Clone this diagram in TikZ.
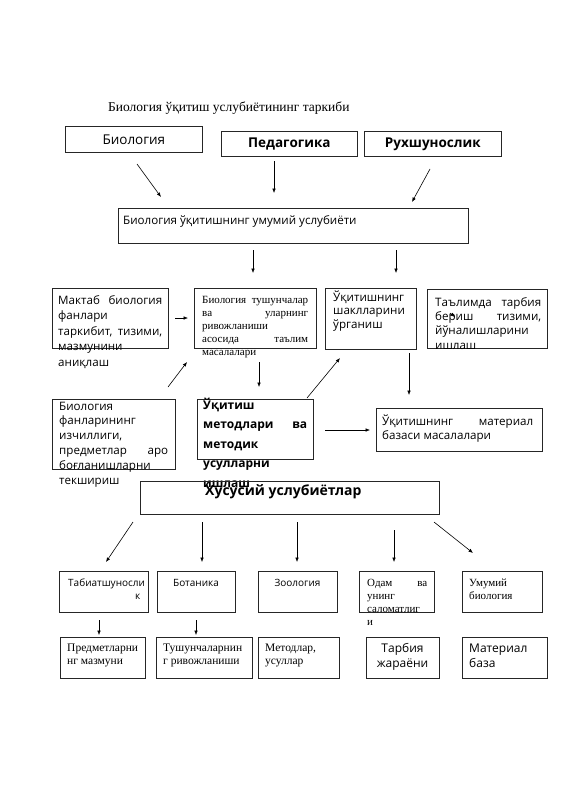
\documentclass[tikz,border=0pt]{standalone}
\usepackage{fontspec}
\setmainfont{Liberation Serif}
\setsansfont{Open Sans}
\usetikzlibrary{arrows.meta}
\newcommand\spread{\nobreak\hskip 2.5pt plus 1fill\relax}
\newcommand\ftitle{\rmfamily\fontsize{13.5}{16}\selectfont}
\newcommand\ftop{\sffamily\fontsize{13.5}{16}\selectfont}
\newcommand\fsans{\sffamily\fontsize{11.6}{15.5}\selectfont}
\newcommand\fbold{\sffamily\bfseries\fontsize{12}{19.5}\selectfont}
\newcommand\fser{\rmfamily\fontsize{11}{13.2}\selectfont}
\newcommand\fsmall{\sffamily\fontsize{10}{13}\selectfont}
\newcommand\fmid{\sffamily\fontsize{12}{15}\selectfont}
\begin{document}
\begin{tikzpicture}[x=1pt,y=-1pt,
  box/.style={draw=black!85, line width=0.7pt, anchor=north west, inner sep=0pt},
  txt/.style={anchor=base west, inner sep=0pt, align=justify},
  arr/.style={-{Latex[length=4.5pt,width=3.6pt]}, line width=0.6pt}]
\useasboundingbox (0,0) rectangle (565,800);

% title
\node[anchor=base west, inner sep=0pt, font=\ftitle] (title) at (108,111) {Биология ўқитиш услубиётининг таркиби};

% top row
\node[box, minimum width=137pt, minimum height=26pt, font=\ftop] (bio) at (65,126) {Биология};
\node[box, minimum width=136pt, minimum height=25pt, font=\ftop\bfseries] (ped) at (221,131) {Педагогика};
\node[box, minimum width=137pt, minimum height=25pt, font=\ftop\bfseries] (rux) at (364,131) {Рухшунослик};

\node[box, minimum width=350pt, minimum height=35pt] (umum) at (118,208) {};
\node[anchor=base west, inner sep=0pt, font=\fsans] (umumt) at (123,224) {Биология ўқитишнинг умумий услубиёти};

% second row
\node[box, minimum width=116pt, minimum height=60pt] (mak) at (52,288) {};
\node[txt, text width=104pt, font=\fsans] (makt) at (58,304)
  {Мактаб\spread биология\\ фанлари\\ таркибит,\spread тизими,\\ мазмунини\\ аниқлаш};
\node[box, minimum width=122pt, minimum height=60pt] (tush) at (194,288) {};
\node[txt, text width=106pt, font=\fser] (tusht) at (202,303)
  {Биология\spread тушунчалар\\ ва\spread уларнинг\\ ривожланиши\\ асосида\spread таълим\\ масалалари};
\node[box, minimum width=91pt, minimum height=61pt] (shak) at (325,288) {};
\node[txt, text width=80pt, font=\fsans\fontsize{11.6}{13.8}\selectfont] (shakt) at (333,301)
  {Ўқитишнинг\\ шаклларини\\ ўрганиш};
\node[box, minimum width=120pt, minimum height=59pt] (talim) at (427,289) {};
\node[txt, text width=106pt, font=\fsans\fontsize{11.6}{14.4}\selectfont] (talimt) at (435,306)
  {Таълимда\spread тарбия\\ бериш\spread тизими,\\ йўналишларини\\ ишлаш};

% third row
\node[box, minimum width=123pt, minimum height=70pt] (fan) at (52,399) {};
\node[txt, text width=109pt, font=\fsans\fontsize{11.6}{14.8}\selectfont] (fant) at (59,410)
  {Биология\\ фанларининг\\ изчиллиги,\\ предметлар\spread аро\\ боғланишларни\\ текшириш};
\node[box, minimum width=116pt, minimum height=60pt] (metod) at (197,399) {};
\node[txt, text width=104pt, font=\fbold] (metodt) at (203,409)
  {Ўқитиш\\ методлари\spread ва\\ методик\\ усулларни\\ ишлаш};
\node[box, minimum width=166pt, minimum height=43pt] (mat) at (376,408) {};
\node[txt, text width=151pt, font=\fsans\fontsize{11.6}{14}\selectfont] (matt) at (382,425)
  {Ўқитишнинг\spread материал\\ базаси масалалари};

\node[box, minimum width=299pt, minimum height=33pt] (xus) at (140,481) {};
\node[anchor=base west, inner sep=0pt, font=\sffamily\bfseries\fontsize{14}{16}\selectfont] (xust) at (205,495) {Хусусий услубиётлар};

% fourth row
\node[box, minimum width=89pt, minimum height=41pt] (tab) at (59,571) {};
\node[txt, align=right, text width=72pt, font=\fsmall] (tabt) at (68,586) {Табиатшуносли\\ к};
\node[box, minimum width=78pt, minimum height=41pt] (bot) at (157,571) {};
\node[anchor=base, inner sep=0pt, font=\fsmall] (bott) at (196,586) {Ботаника};
\node[box, minimum width=79pt, minimum height=41pt] (zoo) at (258,571) {};
\node[anchor=base, inner sep=0pt, font=\fsmall] (zoot) at (297.5,586) {Зоология};
\node[box, minimum width=75pt, minimum height=41pt] (odam) at (359,571) {};
\node[txt, text width=60pt, font=\fser] (odamt) at (367,586) {Одам\spread ва\\ унинг\\ саломатлиг\\ и};
\node[box, minimum width=80pt, minimum height=41pt] (umb) at (462,571) {};
\node[txt, text width=70pt, font=\fser] (umbt) at (469,586) {Умумий\\ биология};

% fifth row
\node[box, minimum width=85pt, minimum height=41pt] (pred) at (60,637) {};
\node[txt, text width=80pt, font=\fser\fontsize{11.5}{13}\selectfont] (predt) at (67,651) {Предметларни\\ нг мазмуни};
\node[box, minimum width=96pt, minimum height=41pt] (tsh) at (156,637) {};
\node[txt, text width=88pt, font=\fser\fontsize{11.5}{13}\selectfont] (tsht) at (163,651) {Тушунчаларнин\\ г ривожланиши};
\node[box, minimum width=81pt, minimum height=41pt] (mtd) at (258,637) {};
\node[txt, text width=72pt, font=\fser\fontsize{11.5}{13}\selectfont] (mtdt) at (265,651) {Методлар,\\ усуллар};
\node[box, minimum width=73pt, minimum height=41pt] (tarb) at (366,637) {};
\node[anchor=base, inner sep=0pt, text width=70pt, align=center, font=\fmid] (tarbt) at (402.5,652) {Тарбия\\ жараёни};
\node[box, minimum width=85pt, minimum height=41pt] (mab) at (462,637) {};
\node[txt, text width=75pt, font=\fmid] (mabt) at (469,652) {Материал\\ база};

% arrows
\foreach \n/\ax/\ay/\bx/\by in {1/137/164/161/197, 2/274/161/274/193, 3/430/169/412/202,
    4/253/250/253/273, 5/396/250/396/273, 6/175/318/188/318, 7/168/387/187/362,
    8/259/362/259/387, 9/307/398/340/358, 10/409/353/409/395, 11/325/430/370/430,
    12/133/522/106/562, 13/202/522/202/562, 14/297/522/297/562, 15/394/530/394/562,
    16/434/522/473/553, 17/99/620/99/635, 18/196/620/196/635, 19/450/313/455/317}{
  \coordinate (s\n) at (\ax,\ay);
  \coordinate (e\n) at (\bx,\by);
  \draw[arr] (s\n) -- (e\n);
}
\end{tikzpicture}
\end{document}
